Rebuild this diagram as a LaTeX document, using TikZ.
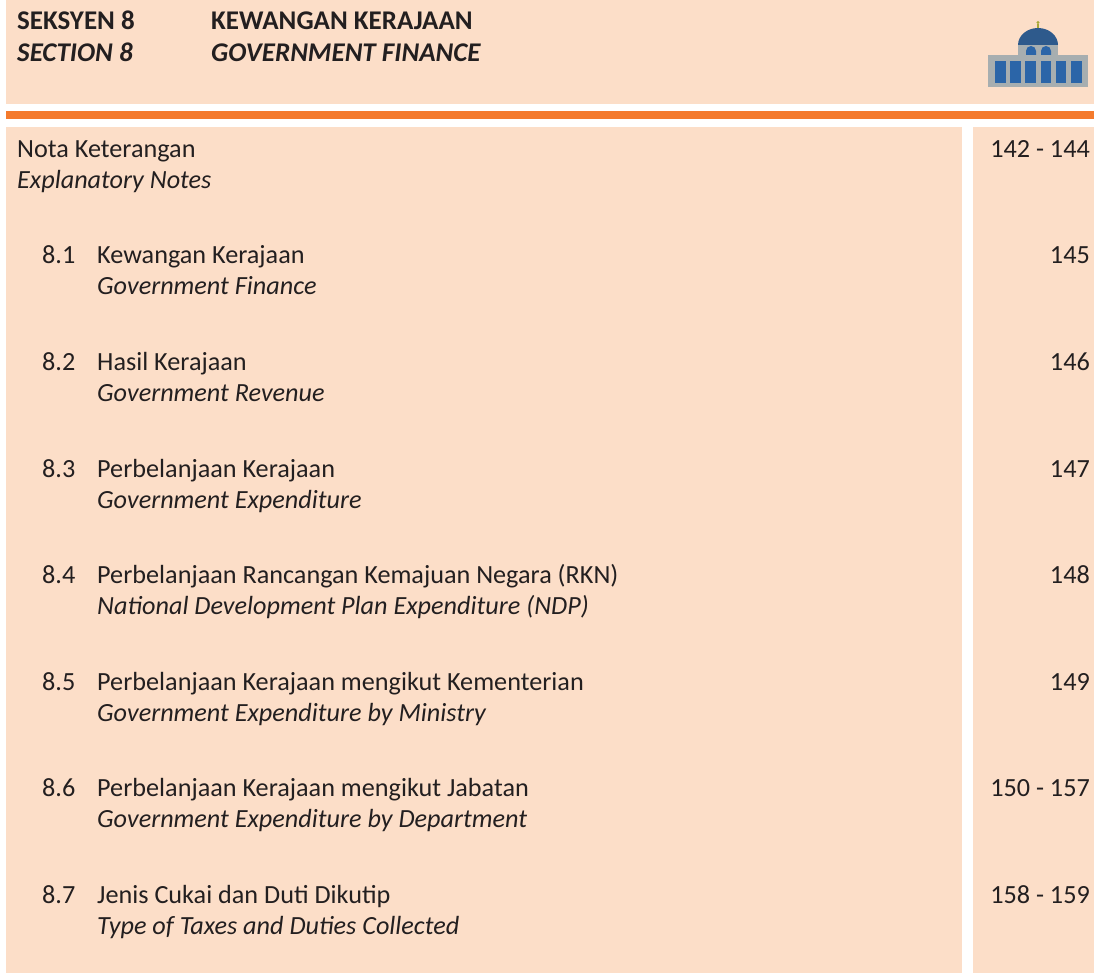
\documentclass[tikz,border=0pt]{standalone}
\usepackage{fontspec}
\setmainfont{Carlito}
\definecolor{peach}{HTML}{FCDEC8}
\definecolor{orangebar}{HTML}{F47A2D}
\definecolor{ink}{HTML}{231F20}
\definecolor{bldgray}{HTML}{A7AEB0}
\definecolor{domeblue}{HTML}{2E5A8C}
\definecolor{winblue}{HTML}{2B65A8}
\definecolor{finial}{HTML}{A8A838}
\tikzset{
  txt/.style={inner sep=0pt, anchor=base west, text=ink, font=\fontsize{26.2}{31}\selectfont},
  itxt/.style={txt, font=\fontsize{26.2}{31}\selectfont\itshape},
  num/.style={txt, anchor=base east},
  head/.style={inner sep=0pt, anchor=base west, text=ink, font=\fontsize{27}{32}\selectfont\bfseries},
  ihead/.style={head, font=\fontsize{27}{32}\selectfont\bfseries\itshape},
  panel/.style={fill=peach, draw=none}
}
\begin{document}
\begin{tikzpicture}[x=1pt,y=-1pt]
\useasboundingbox (0,0) rectangle (1094,973);
\fill[white] (0,0) rectangle (1094,973);
% panels
\path[panel] (6,0) rectangle (1094,104);
\fill[orangebar] (6,111) rectangle (1094,119);
\path[panel] (6,127) rectangle (962,973);
\path[panel] (973,127) rectangle (1094,973);
% header
\node[head] (h1) at (17,30) {SEKSYEN 8};
\node[ihead] (h2) at (17,62) {SECTION 8};
\node[head] (h3) at (211,30) {KEWANGAN KERAJAAN};
\node[ihead] (h4) at (211,62) {GOVERNMENT FINANCE};
% icon
\fill[finial] (1036.8,28) rectangle (1039.2,24);
\fill[finial] (1038,22.5) circle (1.6);
\fill[domeblue] (1018,45) arc[start angle=180, end angle=360, x radius=20, y radius=17] -- cycle;
\fill[bldgray] (1018,45) rectangle (1058,55);
\fill[winblue] (1026,55) -- (1026,51) arc[start angle=180, end angle=360, radius=5] -- (1036,55) -- cycle;
\fill[winblue] (1041,55) -- (1041,51) arc[start angle=180, end angle=360, radius=5] -- (1051,55) -- cycle;
\fill[bldgray] (988,55) rectangle (1088,87);
\foreach \wx in {995,1010.2,1025.4,1040.6,1055.8,1071}
  \fill[winblue] (\wx,61) rectangle ++(10.5,22);
% notes
\node[txt] (nota) at (17,158) {Nota Keterangan};
\node[itxt] (notaen) at (17,189) {Explanatory Notes};
\node[num] (notap) at (1090,158) {142 - 144};
% rows
\foreach \i/\n/\ms/\en/\pg in {
  1/8.1/Kewangan Kerajaan/Government Finance/145,
  2/8.2/Hasil Kerajaan/Government Revenue/146,
  3/8.3/Perbelanjaan Kerajaan/Government Expenditure/147,
  4/8.4/Perbelanjaan Rancangan Kemajuan Negara (RKN)/National Development Plan Expenditure (NDP)/148,
  5/8.5/Perbelanjaan Kerajaan mengikut Kementerian/Government Expenditure by Ministry/149,
  6/8.6/Perbelanjaan Kerajaan mengikut Jabatan/Government Expenditure by Department/150 - 157,
  7/8.7/Jenis Cukai dan Duti Dikutip/Type of Taxes and Duties Collected/158 - 159}
{
  \pgfmathsetmacro{\by}{264+(\i-1)*106.5}
  \node[txt] (n\i) at (42,\by) {\n};
  \node[txt] (m\i) at (97,\by) {\ms};
  \node[itxt] (e\i) at (97,\by+31) {\en};
  \node[num] (p\i) at (1090,\by) {\pg};
}
\end{tikzpicture}
\end{document}
